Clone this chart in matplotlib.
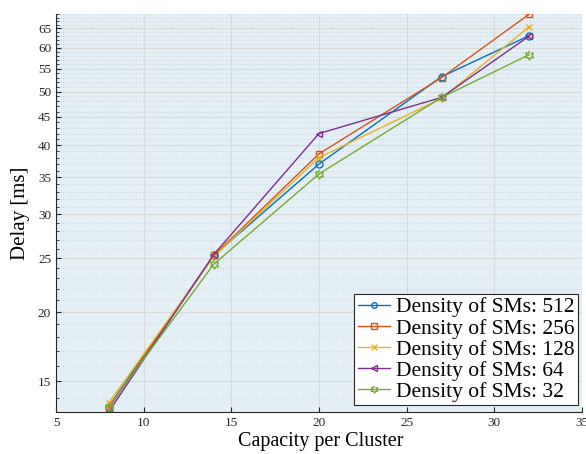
import matplotlib
matplotlib.use("Agg")
import numpy as np
import matplotlib.pyplot as plt
from matplotlib.ticker import FixedLocator, NullFormatter, FixedFormatter

capacity = [8, 14, 20, 27, 32]
delay_512 = [13.5, 25.3, 37.0, 53.2, 63.1]
delay_256 = [13.4, 25.3, 38.6, 53.0, 69.0]
delay_128 = [13.7, 25.2, 38.0, 48.6, 65.5]
delay_64 = [13.2, 25.4, 42.0, 48.8, 63.0]
delay_32 = [13.5, 24.4, 35.5, 48.8, 58.3]
labels = ["Density of SMs: 512", "Density of SMs: 256", "Density of SMs: 128",
          "Density of SMs: 64", "Density of SMs: 32"]
yticks = [15, 20, 25, 30, 35, 40, 45, 50, 55, 60, 65]
xticks = [5, 10, 15, 20, 25, 30, 35]

colors = ["#0072BD", "#D95319", "#EDB120", "#7E2F8E", "#77AC30"]

# hexagram marker (MATLAB style)
ang = np.pi / 2 + np.arange(12) * np.pi / 6
rad = np.where(np.arange(12) % 2 == 0, 1.0, 0.5774)
hexagram = list(zip(rad * np.cos(ang), rad * np.sin(ang)))
markers = ["o", "s", "x", "<", hexagram]
msizes = [5, 5, 5, 5, 6.5]

plt.rcParams['font.family'] = ['Liberation Serif', 'DejaVu Serif']

fig = plt.figure(figsize=(5.86, 4.54), dpi=100)
ax = fig.add_axes([0.0956, 0.0925, 0.8974, 0.8765])
ax.set_facecolor("#e3eef5")

series = [delay_512, delay_256, delay_128, delay_64, delay_32]
for s, c, m, ms, l in zip(series, colors, markers, msizes, labels):
    ax.plot(capacity, s, color=c, marker=m, markersize=ms, markerfacecolor='none',
            markeredgewidth=1.0, linewidth=1.0, label=l)

ax.set_yscale('log')
ax.set_ylim(13.2, 69)
ax.set_xlim(5, 35)
ax.yaxis.set_major_locator(FixedLocator(yticks))
ax.yaxis.set_major_formatter(FixedFormatter([str(v) for v in yticks]))
minors = [v for v in range(14, 70) if v not in yticks]
ax.yaxis.set_minor_locator(FixedLocator(minors))
ax.yaxis.set_minor_formatter(NullFormatter())
ax.set_xticks(xticks)

ax.grid(which='major', color='#d9d9d9', linewidth=0.8, linestyle='-')
ax.grid(which='minor', axis='y', color='#bfc8cc', linewidth=0.6, linestyle=(0, (1, 3)))
ax.set_axisbelow(True)

for sp in ['top', 'right']:
    ax.spines[sp].set_visible(False)
for sp in ['left', 'bottom']:
    ax.spines[sp].set_color('#262626')
    ax.spines[sp].set_linewidth(0.8)

ax.tick_params(which='both', direction='in', labelsize=9.5, colors='#262626')
ax.tick_params(which='minor', length=2)
ax.tick_params(which='major', length=3.5)

ax.set_xlabel("Capacity per Cluster", fontsize=14.5)
ax.set_ylabel("Delay [ms]", fontsize=15)
ax.yaxis.set_label_coords(-0.05, 0.5)
ax.xaxis.set_label_coords(0.503, -0.05)

leg = ax.legend(loc='lower right', fontsize=15.5, frameon=True, fancybox=False,
                edgecolor='#262626', framealpha=1, handlelength=1.5,
                handletextpad=0.3, borderpad=0.15, labelspacing=0.05,
                borderaxespad=0.0, bbox_to_anchor=(0.993, 0.017), markerscale=0.8)
leg.get_frame().set_linewidth(0.8)

fig.savefig("out.png", dpi=100)
